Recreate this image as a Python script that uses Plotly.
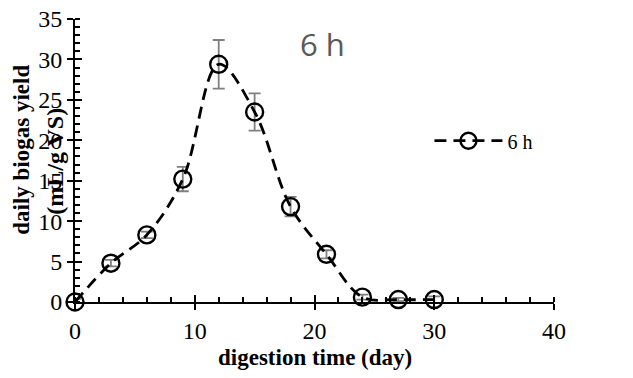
import plotly.graph_objects as go

days = [0, 3, 6, 9, 12, 15, 18, 21, 24, 27, 30]
yield_6h = [0, 4.8, 8.3, 15.2, 29.4, 23.5, 11.8, 5.9, 0.6, 0.3, 0.3]
err_6h = [0.4, 0.4, 0.4, 1.5, 3.0, 2.3, 1.2, 0.5, 0.3, 0.2, 0.4]
x_ticks = [0, 10, 20, 30, 40]
y_ticks = [0, 5, 10, 15, 20, 25, 30, 35]

serif = "Liberation Serif, Times New Roman, serif"

fig = go.Figure()
fig.add_trace(go.Scatter(
    x=days, y=yield_6h, name="6 h", mode="lines+markers",
    line=dict(color="black", width=2.8, dash="12px,7px", shape="spline", smoothing=1),
    marker=dict(symbol="circle-open", size=17, color="black", line=dict(width=2.4)),
    error_y=dict(type="data", array=err_6h, visible=True, color="#7f7f7f", thickness=1.8, width=6),
    cliponaxis=False,
))
# overlay axes for the inner half of crossing major ticks
fig.add_trace(go.Scatter(x=[None], y=[None], xaxis="x2", yaxis="y2", showlegend=False))

axis_common = dict(showgrid=False, zeroline=False, showline=True, linecolor="black", linewidth=2,
                   ticks="outside", ticklen=6, tickwidth=2, tickcolor="black", automargin=False,
                   tickfont=dict(family=serif, size=24, color="black"))
fig.update_layout(
    width=633, height=378,
    margin=dict(l=75, r=79, t=19, b=75.5, autoexpand=False),
    plot_bgcolor="white", paper_bgcolor="white",
    showlegend=True,
    legend=dict(x=0.74, y=0.57, xanchor="left", yanchor="middle", bgcolor="rgba(0,0,0,0)",
                font=dict(family=serif, size=20, color="black"), itemwidth=68),
    xaxis=dict(range=[0, 40], tickvals=x_ticks, ticktext=[str(v) for v in x_ticks],
               minor=dict(dtick=2, ticks="inside", ticklen=5, tickwidth=1.5, tickcolor="black"),
               **axis_common),
    yaxis=dict(range=[0, 35], tickvals=y_ticks, ticktext=[str(v) for v in y_ticks],
               minor=dict(dtick=1, ticks="inside", ticklen=5, tickwidth=1.5, tickcolor="black"),
               **axis_common),
    xaxis2=dict(overlaying="x", matches="x", range=[0, 40], tickvals=x_ticks, showticklabels=False,
                ticks="inside", ticklen=7, tickwidth=2, tickcolor="black", showgrid=False,
                zeroline=False, showline=False, side="bottom", automargin=False),
    yaxis2=dict(overlaying="y", matches="y", range=[0, 35], tickvals=y_ticks, showticklabels=False,
                ticks="inside", ticklen=7, tickwidth=2, tickcolor="black", showgrid=False,
                zeroline=False, showline=False, side="left", automargin=False),
    annotations=[
        dict(text="6 h", xref="paper", yref="paper", x=(322 - 75) / 479, y=(302.5 - 44) / 283.5,
             showarrow=False, xanchor="center", yanchor="middle",
             font=dict(family="Open Sans, sans-serif", size=31, color="#595959")),
        dict(text="<b>digestion time (day)</b>", xref="paper", yref="paper", x=0.5,
             y=(302.5 - 358) / 283.5, showarrow=False, xanchor="center", yanchor="middle",
             font=dict(family=serif, size=23, color="black")),
        dict(text="<b>daily biogas yield</b>", xref="paper", yref="paper", x=(22 - 75) / 479,
             y=(302.5 - 150) / 283.5, showarrow=False, xanchor="center", yanchor="middle",
             textangle=-90, font=dict(family=serif, size=23, color="black")),
        dict(text="<b>(mL/g VS)</b>", xref="paper", yref="paper", x=(55 - 75) / 479,
             y=(302.5 - 162) / 283.5, showarrow=False, xanchor="center", yanchor="middle",
             textangle=-90, font=dict(family=serif, size=24, color="black")),
    ],
)
fig.write_html("out.html")
